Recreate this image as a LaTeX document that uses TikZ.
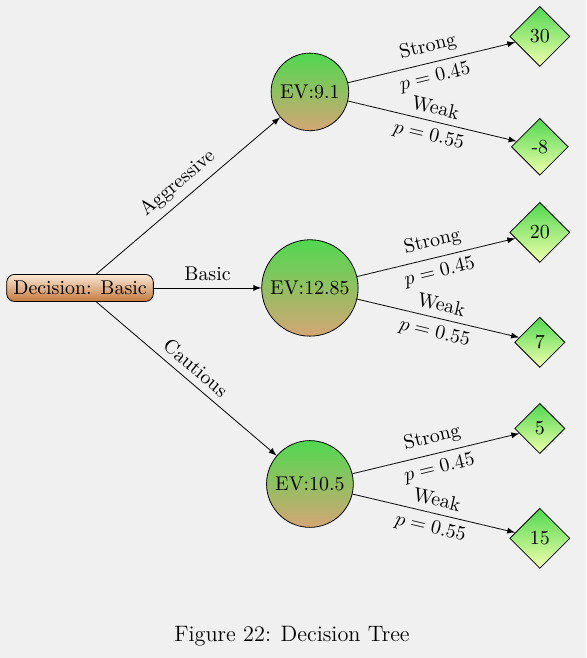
\documentclass[tikz,border=0pt]{standalone}
\usepackage{amsmath}
\usepackage{tikz}
\usetikzlibrary{arrows,positioning,shapes.geometric}
\definecolor{bgGray}{RGB}{240,240,240}
\definecolor{decTop}{RGB}{250,232,214}
\definecolor{decBottom}{RGB}{196,122,62}
\definecolor{evGreen}{RGB}{80,216,80}
\definecolor{evTan}{RGB}{212,166,116}
\definecolor{payYellow}{RGB}{242,255,172}

\begin{document}
\begin{tikzpicture}[
    auto,
    node distance=4.06cm,
    >=latex,
    decision/.style={
		rectangle,
		rounded corners,
		draw=black,
		top color=decTop,
		bottom color=decBottom
	},
    chance/.style={
		circle,
		draw=black,
		top color=evGreen,
		bottom color=evTan
	},
    payoff/.style={
		diamond,
		aspect=1,
		draw=black,
		top color=evGreen,
		bottom color=payYellow
	},
	edgelabel/.style={
		sloped
	}
  ]
  % background and margins
  \fill [bgGray] (0,0) rectangle (10.35,11.62);
  \useasboundingbox (0,0) rectangle (10.35,11.62);

  % the decision and the chance nodes
  \node [decision] (dec) at (1.413,6.535) {Decision: Basic};

  \node [chance, right of=dec, yshift=3.462cm] (evAggr) {EV:9.1};
  \node [chance, right of=dec] (evBasic) {EV:12.85};
  \node [chance, right of=dec, yshift=-3.462cm] (evCaut) {EV:10.5};

  % payoffs
  \node [payoff, right of=evAggr, yshift=0.98cm] (aggrStrong) {30};
  \node [payoff, right of=evAggr, yshift=-0.97cm] (aggrWeak) {-8};
  \node [payoff, right of=evBasic, yshift=0.98cm] (basicStrong) {20};
  \node [payoff, right of=evBasic, yshift=-0.96cm] (basicWeak) {7};
  \node [payoff, right of=evCaut, yshift=0.98cm] (cautStrong) {5};
  \node [payoff, right of=evCaut, yshift=-0.96cm] (cautWeak) {15};

  \draw [->] (dec) -- node [edgelabel, above] {Aggressive} (evAggr);
  \draw [->] (dec) -- node [edgelabel, above] {Basic} (evBasic);
  \draw [->] (dec) -- node [edgelabel, above] {Cautious} (evCaut);

  \draw [->] (evAggr) -- node [edgelabel, above] {Strong} node [edgelabel, below] {$p=0.45$} (aggrStrong);
  \draw [->] (evAggr) -- node [edgelabel, above] {Weak} node [edgelabel, below] {$p=0.55$} (aggrWeak);
  \draw [->] (evBasic) -- node [edgelabel, above] {Strong} node [edgelabel, below] {$p=0.45$} (basicStrong);
  \draw [->] (evBasic) -- node [edgelabel, above] {Weak} node [edgelabel, below] {$p=0.55$} (basicWeak);
  \draw [->] (evCaut) -- node [edgelabel, above] {Strong} node [edgelabel, below] {$p=0.45$} (cautStrong);
  \draw [->] (evCaut) -- node [edgelabel, above] {Weak} node [edgelabel, below] {$p=0.55$} (cautWeak);

  % caption
  \node [font=\fontsize{11.2}{13}\selectfont] (caption) at (5.157,0.389) {Figure 22: Decision Tree};

\end{tikzpicture}
\end{document}
